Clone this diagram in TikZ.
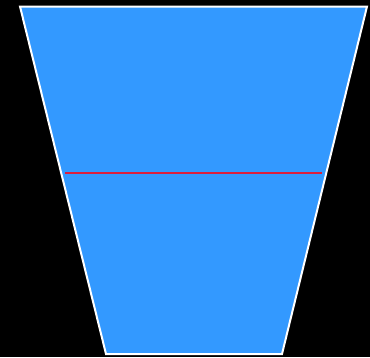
\documentclass[tikz,border=0pt]{standalone}
\definecolor{fillblue}{RGB}{51,153,255}
\definecolor{cutred}{RGB}{220,30,60}
\begin{document}
\begin{tikzpicture}[x=1pt,y=-1pt,
  vessel/.style={fill=fillblue,draw=white,line width=2pt,line join=miter},
  level/.style={draw=cutred,line width=2.2pt}]
\fill[black] (0,0) rectangle (370,357);
\useasboundingbox (0,0) rectangle (370,357);
\coordinate (tl) at (20,6.5);
\coordinate (tr) at (367,6.5);
\coordinate (br) at (282,354);
\coordinate (bl) at (106,354);
\coordinate (la) at (65,173);
\coordinate (lb) at (322,173);
\path[vessel] (tl) -- (tr) -- (br) -- (bl) -- cycle;
\draw[level] (la) -- (lb);
\end{tikzpicture}
\end{document}
